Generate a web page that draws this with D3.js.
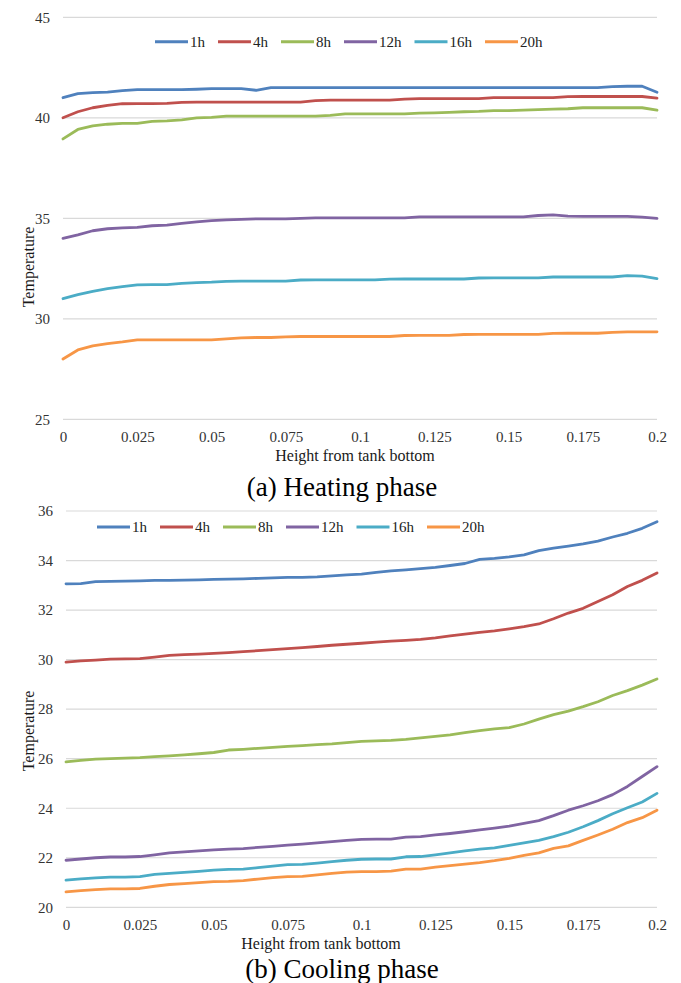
<!DOCTYPE html>
<html>
<head>
<meta charset="utf-8">
<script src="https://cdn.jsdelivr.net/npm/d3@7"></script>
<style>
  body { margin: 0; background: #fff; }
  text { font-family: 'Liberation Serif', 'Times New Roman', serif; }
</style>
</head>
<body>
<svg id="chart" width="681" height="983"></svg>
<script>
// heights from tank bottom (m)
const heights = [0, 0.005, 0.01, 0.015, 0.02, 0.025, 0.03, 0.035, 0.04, 0.045,
  0.05, 0.055, 0.06, 0.065, 0.07, 0.075, 0.08, 0.085, 0.09, 0.095,
  0.1, 0.105, 0.11, 0.115, 0.12, 0.125, 0.13, 0.135, 0.14, 0.145,
  0.15, 0.155, 0.16, 0.165, 0.17, 0.175, 0.18, 0.185, 0.19, 0.195, 0.2];

const seriesNames = ['1h', '4h', '8h', '12h', '16h', '20h'];
const seriesColors = ['#4f81bd', '#c0504d', '#9bbb59', '#8064a2', '#4bacc6', '#f79646'];

const xTicks = [0, 0.025, 0.05, 0.075, 0.1, 0.125, 0.15, 0.175, 0.2];
const xTickLabels = ['0', '0.025', '0.05', '0.075', '0.1', '0.125', '0.15', '0.175', '0.2'];

// (a) heating phase
const heatTicks = [25, 30, 35, 40, 45];
const heat1h = [41.0, 41.2, 41.25, 41.28, 41.35, 41.4, 41.4, 41.4, 41.4, 41.42,
  41.45, 41.45, 41.45, 41.37, 41.5, 41.5, 41.5, 41.5, 41.5, 41.5,
  41.5, 41.5, 41.5, 41.5, 41.5, 41.5, 41.5, 41.5, 41.5, 41.5,
  41.5, 41.5, 41.5, 41.5, 41.5, 41.5, 41.5, 41.55, 41.57, 41.57, 41.27];
const heat4h = [40.0, 40.3, 40.5, 40.62, 40.7, 40.71, 40.71, 40.72, 40.77, 40.78,
  40.78, 40.78, 40.78, 40.78, 40.78, 40.78, 40.78, 40.85, 40.88, 40.88,
  40.88, 40.88, 40.88, 40.93, 40.95, 40.95, 40.95, 40.95, 40.95, 41.0,
  41.0, 41.0, 41.0, 41.0, 41.05, 41.06, 41.06, 41.06, 41.06, 41.06, 40.98];
const heat8h = [38.95, 39.42, 39.6, 39.68, 39.72, 39.72, 39.82, 39.85, 39.9, 40.0,
  40.02, 40.08, 40.08, 40.08, 40.08, 40.08, 40.08, 40.08, 40.12, 40.2,
  40.2, 40.2, 40.2, 40.2, 40.23, 40.25, 40.27, 40.3, 40.32, 40.36,
  40.36, 40.38, 40.41, 40.43, 40.45, 40.5, 40.5, 40.5, 40.5, 40.5, 40.38];
const heat12h = [34.0, 34.18, 34.38, 34.48, 34.52, 34.55, 34.63, 34.66, 34.75, 34.82,
  34.88, 34.92, 34.95, 34.97, 34.97, 34.97, 35.0, 35.02, 35.02, 35.02,
  35.02, 35.02, 35.02, 35.02, 35.07, 35.07, 35.07, 35.07, 35.07, 35.07,
  35.07, 35.07, 35.14, 35.17, 35.11, 35.1, 35.1, 35.1, 35.1, 35.06, 35.0];
const heat16h = [31.0, 31.2, 31.37, 31.5, 31.6, 31.69, 31.7, 31.7, 31.76, 31.8,
  31.82, 31.86, 31.87, 31.87, 31.87, 31.87, 31.93, 31.94, 31.94, 31.94,
  31.94, 31.94, 31.97, 31.98, 31.98, 31.98, 31.98, 31.98, 32.03, 32.04,
  32.04, 32.04, 32.04, 32.08, 32.08, 32.08, 32.08, 32.08, 32.15, 32.12, 32.0];
const heat20h = [28.0, 28.45, 28.65, 28.77, 28.85, 28.95, 28.95, 28.95, 28.95, 28.95,
  28.95, 29.0, 29.05, 29.07, 29.07, 29.1, 29.12, 29.12, 29.12, 29.12,
  29.12, 29.12, 29.12, 29.17, 29.18, 29.18, 29.18, 29.22, 29.23, 29.23,
  29.23, 29.23, 29.23, 29.27, 29.28, 29.28, 29.28, 29.32, 29.35, 29.35, 29.35];

// (b) cooling phase
const coolTicks = [20, 22, 24, 26, 28, 30, 32, 34, 36];
const cool1h = [33.06, 33.07, 33.15, 33.16, 33.17, 33.18, 33.2, 33.2, 33.21, 33.22,
  33.24, 33.25, 33.26, 33.28, 33.3, 33.32, 33.32, 33.34, 33.38, 33.42,
  33.45, 33.52, 33.58, 33.62, 33.67, 33.72, 33.8, 33.88, 34.05, 34.09,
  34.15, 34.23, 34.4, 34.5, 34.58, 34.67, 34.78, 34.95, 35.1, 35.3, 35.57];
const cool4h = [29.9, 29.95, 29.98, 30.02, 30.03, 30.04, 30.1, 30.17, 30.2, 30.22,
  30.25, 30.28, 30.32, 30.36, 30.4, 30.44, 30.48, 30.53, 30.58, 30.62,
  30.66, 30.71, 30.75, 30.78, 30.82, 30.88, 30.96, 31.03, 31.1, 31.16,
  31.24, 31.33, 31.44, 31.65, 31.88, 32.07, 32.35, 32.62, 32.95, 33.2, 33.5];
const cool8h = [25.87, 25.93, 25.98, 26.0, 26.02, 26.04, 26.08, 26.11, 26.15, 26.2,
  26.25, 26.35, 26.38, 26.42, 26.46, 26.5, 26.53, 26.57, 26.6, 26.65,
  26.7, 26.72, 26.74, 26.78, 26.84, 26.9, 26.96, 27.05, 27.13, 27.2,
  27.25, 27.4, 27.6, 27.78, 27.92, 28.1, 28.3, 28.55, 28.75, 28.97, 29.22];
const cool12h = [21.9, 21.95, 22.0, 22.03, 22.03, 22.05, 22.12, 22.2, 22.24, 22.28,
  22.32, 22.35, 22.37, 22.42, 22.46, 22.51, 22.55, 22.6, 22.65, 22.7,
  22.74, 22.75, 22.75, 22.83, 22.85, 22.92, 22.98, 23.05, 23.13, 23.2,
  23.28, 23.39, 23.5, 23.7, 23.92, 24.1, 24.3, 24.55, 24.88, 25.28, 25.68];
const cool16h = [21.1, 21.15, 21.19, 21.22, 21.22, 21.24, 21.33, 21.37, 21.41, 21.45,
  21.5, 21.53, 21.54, 21.6, 21.66, 21.72, 21.73, 21.78, 21.84, 21.9,
  21.94, 21.95, 21.95, 22.04, 22.05, 22.12, 22.2, 22.28, 22.35, 22.4,
  22.5, 22.6, 22.7, 22.85, 23.03, 23.25, 23.5, 23.78, 24.02, 24.25, 24.6];
const cool20h = [20.62, 20.67, 20.71, 20.74, 20.74, 20.76, 20.85, 20.92, 20.96, 21.0,
  21.04, 21.05, 21.08, 21.14, 21.2, 21.24, 21.25, 21.31, 21.37, 21.42,
  21.44, 21.44, 21.46, 21.54, 21.54, 21.62, 21.68, 21.74, 21.8, 21.88,
  21.98, 22.1, 22.2, 22.38, 22.48, 22.7, 22.92, 23.15, 23.42, 23.62, 23.92];

const svg = d3.select('#chart');

function drawPanel(p) {
  const x = d3.scaleLinear().domain([0, 0.2]).range([p.left, p.right]);
  const y = d3.scaleLinear().domain(p.yDomain).range([p.bottom, p.top]);
  const g = svg.append('g');

  // gridlines
  g.selectAll('line.grid').data(p.yTicks).enter().append('line')
      .attr('class', 'grid')
      .attr('x1', p.left).attr('x2', p.right)
      .attr('y1', d => y(d)).attr('y2', d => y(d))
      .attr('stroke', '#d9d9d9')
      .attr('stroke-width', 1.2);

  // y axis labels
  const yAxisG = g.append('g')
      .attr('transform', `translate(${p.left}, 0)`)
      .call(d3.axisLeft(y).tickValues(p.yTicks).tickSize(0).tickPadding(13));
  yAxisG.select('.domain').remove();
  yAxisG.selectAll('text')
      .attr('fill', '#333')
      .style('font-size', '15px')
      .style('font-family', "'Liberation Serif', serif");

  // x axis labels
  const xAxisG = g.append('g')
      .attr('transform', `translate(0, ${p.bottom})`)
      .call(d3.axisBottom(x).tickValues(xTicks)
        .tickFormat((d, i) => xTickLabels[i]).tickSize(0));
  xAxisG.select('.domain').remove();
  xAxisG.selectAll('text')
      .attr('y', 17.5)
      .attr('dy', '0.35em')
      .attr('fill', '#333')
      .style('font-size', '15px')
      .style('font-family', "'Liberation Serif', serif");

  // series lines
  const line = d3.line()
      .x((d, i) => x(heights[i]))
      .y(d => y(d));
  g.selectAll('path.series').data(p.series).enter().append('path')
      .attr('class', 'series')
      .attr('d', d => line(d))
      .attr('fill', 'none')
      .attr('stroke', (d, i) => seriesColors[i])
      .attr('stroke-width', 2.8)
      .attr('stroke-linejoin', 'round')
      .attr('stroke-linecap', 'round');

  // legend
  let lx = p.legendX;
  seriesNames.forEach((name, i) => {
    g.append('line')
        .attr('x1', lx).attr('x2', lx + 33)
        .attr('y1', p.legendY).attr('y2', p.legendY)
        .attr('stroke', seriesColors[i])
        .attr('stroke-width', 3);
    const t = g.append('text')
        .attr('x', lx + 35)
        .attr('y', p.legendY)
        .attr('dy', '0.35em')
        .attr('fill', '#222')
        .style('font-size', '15px')
        .text(name);
    lx += 35 + t.node().getComputedTextLength() + 13;
  });

  // axis titles
  g.append('text')
      .attr('x', p.xTitleX)
      .attr('y', p.bottom + 36)
      .attr('dy', '0.35em')
      .attr('text-anchor', 'middle')
      .attr('fill', '#1a1a1a')
      .style('font-size', '16px')
      .text('Height from tank bottom');

  g.append('text')
      .attr('transform', `translate(28, ${p.yTitleY}) rotate(-90)`)
      .attr('dy', '0.35em')
      .attr('text-anchor', 'middle')
      .attr('fill', '#1a1a1a')
      .style('font-size', '16px')
      .text('Temperature');

  // caption
  g.append('text')
      .attr('x', 342)
      .attr('y', p.captionY)
      .attr('dy', '0.35em')
      .attr('text-anchor', 'middle')
      .attr('fill', '#000')
      .style('font-size', '27px')
      .text(p.caption);
}

drawPanel({
  left: 63, right: 657, top: 17.3, bottom: 419.3,
  yDomain: [25, 45], yTicks: heatTicks,
  series: [heat1h, heat4h, heat8h, heat12h, heat16h, heat20h],
  legendX: 155, legendY: 41.7,
  xTitleX: 355, yTitleY: 267,
  captionY: 487, caption: '(a) Heating phase'
});

drawPanel({
  left: 66, right: 657, top: 511, bottom: 907.3,
  yDomain: [20, 36], yTicks: coolTicks,
  series: [cool1h, cool4h, cool8h, cool12h, cool16h, cool20h],
  legendX: 97, legendY: 527,
  xTitleX: 321, yTitleY: 731,
  captionY: 969, caption: '(b) Cooling phase'
});
</script>
</body>
</html>
